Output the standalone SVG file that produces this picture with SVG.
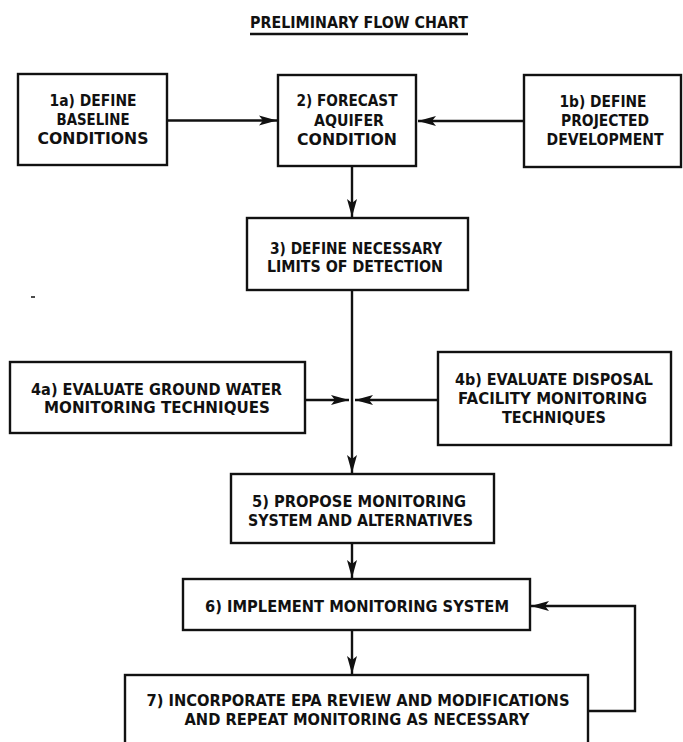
<svg xmlns="http://www.w3.org/2000/svg" width="683" height="742" viewBox="0 0 683 742">
<style>
.box{fill:#fff;stroke:#111;stroke-width:2.4}
.t{font-family:"DejaVu Sans","Liberation Sans",sans-serif;font-weight:bold;font-size:15px;fill:#111;text-anchor:middle}
.c{fill:none;stroke:#111;stroke-width:2.4}
</style>
<defs>
<marker id="ah" markerUnits="userSpaceOnUse" markerWidth="20" markerHeight="12" refX="18" refY="6" orient="auto">
<path d="M0,1 L18,6 L0,11 L4,6 z" fill="#111"/>
</marker>
</defs>
<rect width="683" height="742" fill="#fff"/>
<g id="title">
<text class="t" x="359" y="27.5" textLength="218" lengthAdjust="spacingAndGlyphs">PRELIMINARY FLOW CHART</text>
<line x1="250" y1="34" x2="468" y2="34" stroke="#111" stroke-width="2.5"/>
</g>
<g id="connectors">
<line class="c" x1="167" y1="120.5" x2="277" y2="120.5" marker-end="url(#ah)"/>
<line class="c" x1="524" y1="121" x2="418" y2="121" marker-end="url(#ah)"/>
<line class="c" x1="352" y1="166" x2="352" y2="217" marker-end="url(#ah)"/>
<line class="c" x1="352" y1="290" x2="352" y2="473" marker-end="url(#ah)"/>
<line class="c" x1="305" y1="400" x2="349" y2="400" marker-end="url(#ah)"/>
<line class="c" x1="438" y1="400" x2="355" y2="400" marker-end="url(#ah)"/>
<line class="c" x1="352" y1="543" x2="352" y2="578" marker-end="url(#ah)"/>
<line class="c" x1="352" y1="630" x2="352" y2="674" marker-end="url(#ah)"/>
<path class="c" d="M588,711 H635 V606 H531" marker-end="url(#ah)"/>
<line x1="31" y1="297" x2="35" y2="297" stroke="#111" stroke-width="1.5"/>
</g>
<g id="n1a">
<rect class="box" x="18" y="74" width="149" height="91"/>
<text class="t" x="93" y="105.5" textLength="87" lengthAdjust="spacingAndGlyphs">1a) DEFINE</text>
<text class="t" x="93" y="124.5" textLength="73" lengthAdjust="spacingAndGlyphs">BASELINE</text>
<text class="t" x="93" y="143.5" textLength="111" lengthAdjust="spacingAndGlyphs">CONDITIONS</text>
</g>
<g id="n2">
<rect class="box" x="278" y="75" width="138" height="91"/>
<text class="t" x="347" y="106" textLength="101" lengthAdjust="spacingAndGlyphs">2) FORECAST</text>
<text class="t" x="349" y="126" textLength="70" lengthAdjust="spacingAndGlyphs">AQUIFER</text>
<text class="t" x="347" y="144.5" textLength="100" lengthAdjust="spacingAndGlyphs">CONDITION</text>
</g>
<g id="n1b">
<rect class="box" x="524" y="75" width="157" height="92"/>
<text class="t" x="603" y="107" textLength="87" lengthAdjust="spacingAndGlyphs">1b) DEFINE</text>
<text class="t" x="605" y="126" textLength="88" lengthAdjust="spacingAndGlyphs">PROJECTED</text>
<text class="t" x="605" y="145" textLength="117" lengthAdjust="spacingAndGlyphs">DEVELOPMENT</text>
</g>
<g id="n3">
<rect class="box" x="247" y="218" width="221" height="72"/>
<text class="t" x="356" y="254" textLength="172" lengthAdjust="spacingAndGlyphs">3) DEFINE NECESSARY</text>
<text class="t" x="355" y="272" textLength="176" lengthAdjust="spacingAndGlyphs">LIMITS OF DETECTION</text>
</g>
<g id="n4a">
<rect class="box" x="10" y="362" width="295" height="71"/>
<text class="t" x="156.5" y="395" textLength="251" lengthAdjust="spacingAndGlyphs">4a) EVALUATE GROUND WATER</text>
<text class="t" x="157" y="413" textLength="226" lengthAdjust="spacingAndGlyphs">MONITORING TECHNIQUES</text>
</g>
<g id="n4b">
<rect class="box" x="438" y="352" width="233" height="93"/>
<text class="t" x="554" y="385" textLength="198" lengthAdjust="spacingAndGlyphs">4b) EVALUATE DISPOSAL</text>
<text class="t" x="552.5" y="404" textLength="189" lengthAdjust="spacingAndGlyphs">FACILITY MONITORING</text>
<text class="t" x="554" y="423" textLength="104" lengthAdjust="spacingAndGlyphs">TECHNIQUES</text>
</g>
<g id="n5">
<rect class="box" x="231" y="474" width="263" height="69"/>
<text class="t" x="359" y="507" textLength="214" lengthAdjust="spacingAndGlyphs">5) PROPOSE MONITORING</text>
<text class="t" x="360.5" y="525.5" textLength="225" lengthAdjust="spacingAndGlyphs">SYSTEM AND ALTERNATIVES</text>
</g>
<g id="n6">
<rect class="box" x="183" y="579" width="347" height="51"/>
<text class="t" x="357" y="612" textLength="304" lengthAdjust="spacingAndGlyphs">6) IMPLEMENT MONITORING SYSTEM</text>
</g>
<g id="n7">
<rect class="box" x="125" y="675" width="463" height="90"/>
<text class="t" x="358" y="706" textLength="423" lengthAdjust="spacingAndGlyphs">7) INCORPORATE EPA REVIEW AND MODIFICATIONS</text>
<text class="t" x="357" y="725" textLength="345" lengthAdjust="spacingAndGlyphs">AND REPEAT MONITORING AS NECESSARY</text>
</g>
</svg>
